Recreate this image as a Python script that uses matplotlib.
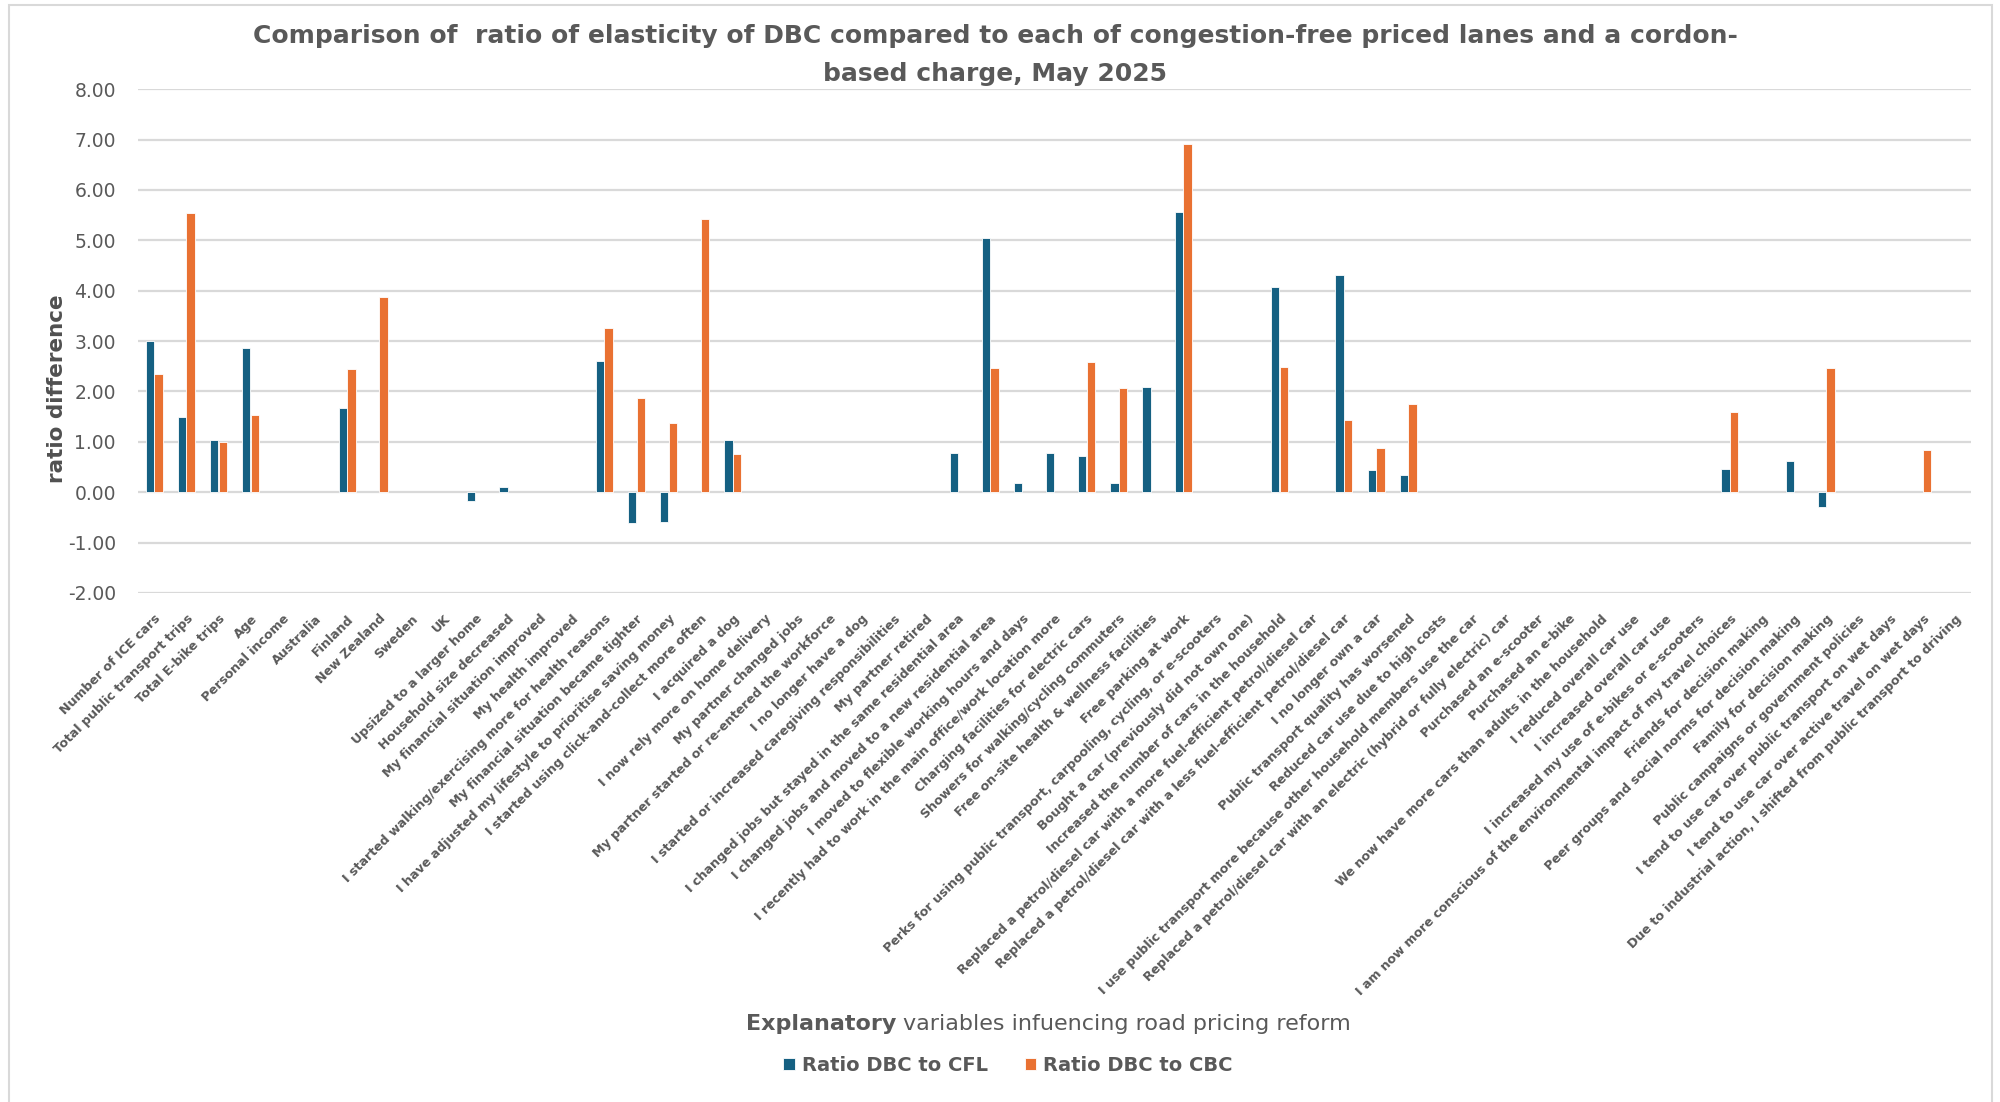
import numpy as np
import matplotlib
matplotlib.use("Agg")
from matplotlib import pyplot as plt
from matplotlib.patches import Rectangle

nan = np.nan

categories = [
    "Number of ICE cars", "Total public transport trips", "Total E-bike trips", "Age",
    "Personal income", "Australia", "Finland", "New Zealand", "Sweden", "UK",
    "Upsized to a larger home", "Household size decreased",
    "My financial situation improved", "My health improved",
    "I started walking/exercising more for health reasons",
    "My financial situation became tighter",
    "I have adjusted my lifestyle to prioritise saving money",
    "I started using click-and-collect more often", "I acquired a dog",
    "I now rely more on home delivery", "My partner changed jobs",
    "My partner started or re-entered the workforce", "I no longer have a dog",
    "I started or increased caregiving responsibilities", "My partner retired",
    "I changed jobs but stayed in the same residential area",
    "I changed jobs and moved to a new residential area",
    "I moved to flexible working hours and days",
    "I recently had to work in the main office/work location more",
    "Charging facilities for electric cars",
    "Showers for walking/cycling commuters",
    "Free on-site health & wellness facilities", "Free parking at work",
    "Perks for using public transport, carpooling, cycling, or e-scooters",
    "Bought a car (previously did not own one)",
    "Increased the number of cars in the household",
    "Replaced a petrol/diesel car with a more fuel-efficient petrol/diesel car",
    "Replaced a petrol/diesel car with a less fuel-efficient petrol/diesel car",
    "I no longer own a car", "Public transport quality has worsened",
    "Reduced car use due to high costs",
    "I use public transport more because other household members use the car",
    "Replaced a petrol/diesel car with an electric (hybrid or fully electric) car",
    "Purchased an e-scooter", "Purchased an e-bike",
    "We now have more cars than adults in the household",
    "I reduced overall car use", "I increased overall car use",
    "I increased my use of e-bikes or e-scooters",
    "I am now more conscious of the environmental impact of my travel choices",
    "Friends for decision making",
    "Peer groups and social norms for decision making",
    "Family for decision making", "Public campaigns or government policies",
    "I tend to use car over public transport on wet days",
    "I tend to use car over active travel on wet days",
    "Due to industrial action, I shifted from public transport to driving",
]

ratio_cfl = [3.00, 1.50, 1.04, 2.87, nan, nan, 1.68, nan, nan, nan,
             -0.18, 0.11, nan, nan, 2.60, -0.62, -0.59, nan, 1.03, nan,
             nan, nan, nan, nan, nan, 0.77, 5.05, 0.18, 0.77, 0.72,
             0.18, 2.08, 5.56, nan, nan, 4.07, nan, 4.32, 0.44, 0.35,
             nan, nan, nan, nan, nan, nan, nan, nan, nan, 0.46,
             nan, 0.62, -0.30, nan, nan, nan, nan]

ratio_cbc = [2.34, 5.55, 0.99, 1.54, nan, nan, 2.44, 3.88, nan, nan,
             nan, nan, nan, nan, 3.25, 1.87, 1.37, 5.42, 0.75, nan,
             nan, nan, nan, nan, nan, nan, 2.47, nan, nan, 2.59,
             2.06, nan, 6.92, nan, nan, 2.48, nan, 1.44, 0.87, 1.76,
             nan, nan, nan, nan, nan, nan, nan, nan, nan, 1.59,
             nan, nan, 2.46, nan, nan, 0.83, nan]

yticks = np.arange(-2, 9, 1)

blue = "#156082"
orange = "#E97132"
grey = "#595959"

fig = plt.figure(figsize=(20, 11.02), dpi=100)
ax = fig.add_axes([0.069, 0.462, 0.9165, 0.457])

x = np.arange(len(categories))
w = 0.26
ax.bar(x - 0.135, ratio_cfl, w, color=blue, edgecolor="white", linewidth=0.6,
       label="Ratio DBC to CFL", zorder=3)
ax.bar(x + 0.135, ratio_cbc, w, color=orange, edgecolor="white", linewidth=0.6,
       label="Ratio DBC to CBC", zorder=3)

ax.set_xlim(-0.5, len(categories) - 0.5)
ax.set_ylim(-2, 8)
ax.set_yticks(yticks)
ax.set_yticklabels(["%.2f" % v for v in yticks], fontsize=13.5, color=grey)
ax.yaxis.grid(True, color="#D9D9D9", linewidth=1.6, zorder=0)
ax.set_axisbelow(True)
for s in ax.spines.values():
    s.set_visible(False)
ax.tick_params(axis="both", length=0)
ax.tick_params(axis="y", pad=16)

ax.set_xticks(x)
ax.set_xticklabels(categories, rotation=45, ha="right", rotation_mode="anchor",
                   fontsize=9.1, fontweight="bold", color=grey)
ax.tick_params(axis="x", pad=14)

ax.set_ylabel("ratio difference", fontsize=15.5, fontweight="bold", color="#505050")
ax.yaxis.set_label_coords(-0.039, 0.405)

fig.text(0.4975, 0.967, "Comparison of  ratio of elasticity of DBC compared to each of congestion-free priced lanes and a cordon-",
         ha="center", va="center", fontsize=18, fontweight="bold", color=grey)
fig.text(0.4975, 0.933, "based charge, May 2025", ha="center", va="center",
         fontsize=18, fontweight="bold", color=grey)

fig.text(0.4484, 0.071, "Explanatory", ha="right", va="center", fontsize=16,
         fontweight="bold", color=grey)
fig.text(0.4515, 0.071, "variables infuencing road pricing reform", ha="left", va="center",
         fontsize=16, color=grey)

fig.legend(loc="center", bbox_to_anchor=(0.504, 0.033), ncol=2, frameon=False,
           prop={"weight": "bold", "size": 14},
           handlelength=0.6, handleheight=0.6, handletextpad=0.35, columnspacing=1.9,
           labelcolor=grey)

fig.patches.append(Rectangle((0.0045, -0.01), 0.9915, 1.0055, transform=fig.transFigure,
                             fill=False, edgecolor="#D9D9D9", linewidth=1.5))

fig.savefig("out.png", dpi=100, facecolor="white")
